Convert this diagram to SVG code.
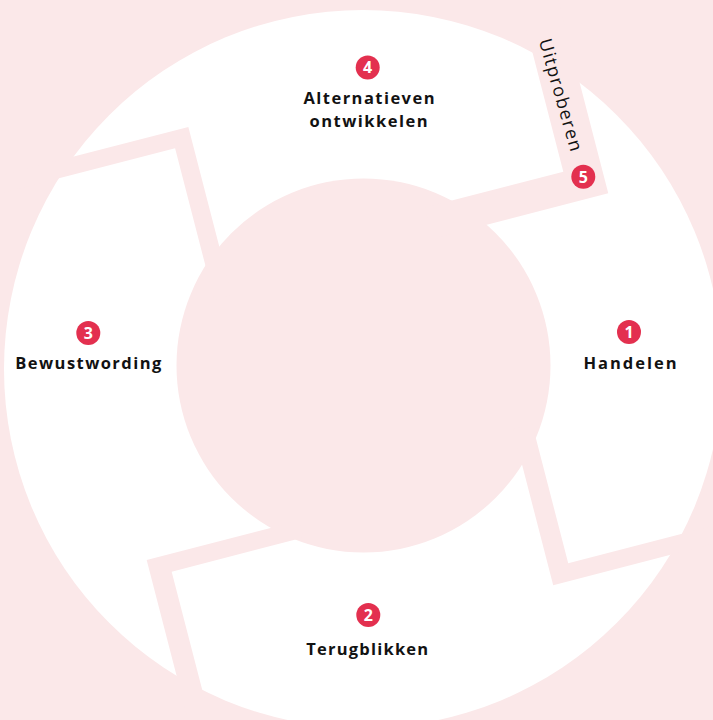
<svg xmlns="http://www.w3.org/2000/svg" width="713" height="720" viewBox="0 0 713 720">
<style>
.lbl{font-family:"Open Sans","Liberation Sans",sans-serif;font-weight:700;font-size:16.5px;fill:#121212;text-anchor:middle}
.side{font-family:"Open Sans","Liberation Sans",sans-serif;font-weight:500;font-size:18px;fill:#121212;text-anchor:middle}
.badge{fill:#e3304f}
.num{font-family:"Open Sans","Liberation Sans",sans-serif;font-weight:700;font-size:16px;fill:#ffffff;text-anchor:middle}
.gap{fill:#fbe8e9}
</style>
<rect width="713" height="720" fill="#fbe8e9"/>
<g id="ring">
<circle cx="363" cy="369" r="359" fill="#ffffff"/>
<circle cx="363.5" cy="365.5" r="187" fill="#fbe8e9"/>
</g>
<g id="connectors" transform="rotate(-14.5 362 365)">
<polygon class="gap" points="-108.5,-100 -108.5,-274 -400,-274 -400,-256.6 -126.7,-256.6 -126.7,-100" transform="translate(362 365)"/>
<polygon class="gap" points="243.3,-400 281.4,-400 281.4,-104.5 100,-104.5 100,-136.7 243.3,-136.7" transform="translate(362 365)"/>
<polygon class="gap" points="130,100 150,100 150,243.6 400,243.6 400,261 130,261" transform="translate(362 365)"/>
<polygon class="gap" points="-100,134.9 -257.3,134.9 -257.3,400 -236,400 -236,152.4 -100,152.4" transform="translate(362 365)"/>
</g>
<g id="node1">
<circle class="badge" cx="629" cy="332" r="12"/>
<text class="num" x="629" y="337.8">1</text>
<text class="lbl" x="630" y="369" textLength="93">Handelen</text>
</g>
<g id="node2">
<circle class="badge" cx="368.3" cy="615" r="12"/>
<text class="num" x="368.3" y="620.8">2</text>
<text class="lbl" x="367.2" y="655" textLength="122">Terugblikken</text>
</g>
<g id="node3">
<circle class="badge" cx="88.3" cy="333" r="12"/>
<text class="num" x="88.3" y="338.8">3</text>
<text class="lbl" x="88.3" y="368.5" textLength="146">Bewustwording</text>
</g>
<g id="node4">
<circle class="badge" cx="367.7" cy="67.5" r="12"/>
<text class="num" x="367.7" y="73.3">4</text>
<text class="lbl" x="369" y="104" textLength="131">Alternatieven</text>
<text class="lbl" x="368.5" y="127" textLength="118">ontwikkelen</text>
</g>
<g id="node5">
<circle class="badge" cx="583.3" cy="176.7" r="12"/>
<text class="num" x="583.3" y="182.5">5</text>
<text class="side" transform="translate(560 95) rotate(74)" x="0" y="5.5" textLength="116">Uitproberen</text>
</g>
</svg>
